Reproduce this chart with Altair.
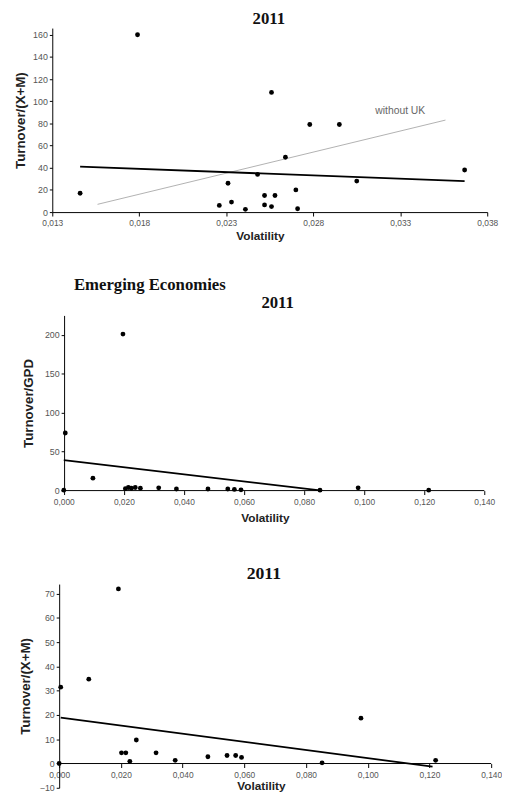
import altair as alt
import pandas as pd

# ---------- Panel 1 : 2011, Turnover/(X+M) ----------
p1_vol = [0.0146, 0.0179, 0.0256, 0.0278, 0.0295, 0.0264, 0.0367, 0.0305, 0.0248,
          0.0231, 0.0226, 0.0233, 0.0241, 0.0252, 0.0258, 0.0252, 0.0256, 0.0270, 0.0271]
p1_turn = [17, 160, 108, 79, 79, 49.5, 38, 28, 34,
           26, 6, 9, 2.5, 15, 15, 6.5, 5, 20, 3]
p1_trend_x = [0.0146, 0.0367]
p1_trend_y = [41, 28]
p1_nouk_x = [0.0156, 0.0356]
p1_nouk_y = [7, 83]
p1_xticks = [0.013, 0.018, 0.023, 0.028, 0.033, 0.038]
p1_yticks = [0, 20, 40, 60, 80, 100, 120, 140, 160]

# ---------- Panel 2 : Emerging Economies 2011, Turnover/GPD ----------
p2_vol = [0.0, 0.0005, 0.0097, 0.0197, 0.0205, 0.0215, 0.0225, 0.0238, 0.0255,
          0.0316, 0.0375, 0.048, 0.0546, 0.0568, 0.059, 0.0853, 0.098, 0.1215]
p2_turn = [0.5, 74, 16, 201, 2.5, 4, 3, 4, 3,
           3.5, 2, 2, 2, 1.5, 1, 0.5, 3.5, 0.5]
p2_trend_x = [0.0, 0.086]
p2_trend_y = [39, 0]
p2_xticks = [0.0, 0.02, 0.04, 0.06, 0.08, 0.10, 0.12, 0.14]
p2_yticks = [0, 50, 100, 150, 200]

# ---------- Panel 3 : 2011, Turnover/(X+M) ----------
p3_vol = [0.0, 0.0005, 0.0096, 0.0192, 0.0202, 0.0216, 0.0229, 0.025, 0.0314,
          0.0376, 0.0482, 0.0544, 0.0572, 0.0591, 0.0852, 0.0978, 0.122]
p3_turn = [0, 31.5, 34.8, 72, 4.4, 4.4, 0.9, 9.7, 4.4,
           1.3, 2.8, 3.3, 3.3, 2.5, 0.3, 18.7, 1.3]
p3_trend_x = [0.0005, 0.121]
p3_trend_y = [18.9, -1.3]
p3_xticks = [0.0, 0.02, 0.04, 0.06, 0.08, 0.10, 0.12, 0.14]
p3_yticks = [-10, 0, 10, 20, 30, 40, 50, 60, 70]

comma = "replace(format(datum.value, '.3f'), '.', ',')"
SERIF = "Liberation Serif"
SANS = "Liberation Sans"


def xaxis(ticks, tx, ty, offset=0, domain=True):
    return alt.Axis(values=ticks, labelExpr=comma, title="Volatility",
                    titleFont=SANS, titleFontSize=12, titleFontWeight="bold",
                    titleColor="#222", titleX=tx, titleY=ty, titleBaseline="middle",
                    labelFont=SANS, labelFontSize=8.5, labelColor="#555",
                    tickSize=4, tickColor="black", domain=domain, domainColor="black",
                    labelPadding=3, offset=offset, grid=False, labelFlush=False,
                    labelOverlap=False)


def yaxis(ticks, title, tx, offset=0):
    return alt.Axis(values=ticks, title=title, format="d",
                    titleFont=SANS, titleFontSize=13.5, titleFontWeight="bold",
                    titleColor="#222", titleX=tx, titleBaseline="middle",
                    labelFont=SANS, labelFontSize=9, labelColor="#555",
                    tickSize=3, tickColor="black", domainColor="black",
                    labelPadding=2, grid=False, labelOverlap=False, offset=offset)


def title(txt, size, dx, off, anchor="middle"):
    return alt.TitleParams(txt, font=SERIF, fontSize=size, fontWeight="bold",
                           anchor=anchor, frame="group", dx=dx, offset=off,
                           color="#111")


# Panel 1  (plot area 442 x 187)
d1 = pd.DataFrame({"v": p1_vol, "t": p1_turn})
t1 = pd.DataFrame({"v": p1_trend_x, "t": p1_trend_y})
n1 = pd.DataFrame({"v": p1_nouk_x, "t": p1_nouk_y})
x1 = alt.X("v:Q", scale=alt.Scale(domain=[0.013, 0.038], nice=False, zero=False),
           axis=xaxis(p1_xticks, 211, 24))
y1 = alt.Y("t:Q", scale=alt.Scale(domain=[0, 166], nice=False),
           axis=yaxis(p1_yticks, "Turnover/(X+M)", -32))
pts1 = alt.Chart(d1).mark_circle(size=24, color="black", opacity=1).encode(x=x1, y=y1)
tr1 = alt.Chart(t1).mark_line(color="black", strokeWidth=1.8).encode(x=x1, y=y1)
nu1 = alt.Chart(n1).mark_line(color="#b0b0b0", strokeWidth=1).encode(x=x1, y=y1)
lab1 = alt.Chart(pd.DataFrame({"v": [0.033], "t": [91.5], "s": ["without UK"]})).mark_text(
    font=SANS, fontSize=10.5, color="#666").encode(x=x1, y=y1, text="s:N")
panel1 = alt.layer(nu1, tr1, pts1, lab1).properties(
    width=442, height=187, title=title("2011", 17, -1, 0.5))

# Panel 2  (x = 0 sits 12 px right of the common plot origin)
d2 = pd.DataFrame({"v": p2_vol, "t": p2_turn})
t2 = pd.DataFrame({"v": p2_trend_x, "t": p2_trend_y})
ax2 = pd.DataFrame({"v": [0.0], "b": [0.14], "t": [0.0]})
x2 = alt.X("v:Q", scale=alt.Scale(domain=[-0.00383, 0.14], nice=False, zero=False),
           axis=xaxis(p2_xticks, 216, 27, domain=False))
y2 = alt.Y("t:Q", scale=alt.Scale(domain=[0, 225], nice=False),
           axis=yaxis(p2_yticks, "Turnover/GPD", -36, offset=-12))
axl2 = alt.Chart(ax2).mark_rule(color="black", strokeWidth=1).encode(x=x2, x2="b:Q", y=y2)
pts2 = alt.Chart(d2).mark_circle(size=24, color="black", opacity=1).encode(x=x2, y=y2)
tr2 = alt.Chart(t2).mark_line(color="black", strokeWidth=1.8).encode(x=x2, y=y2)
yr2 = alt.Chart(pd.DataFrame({"s": ["2011"]})).mark_text(
    font=SERIF, fontSize=17, fontWeight="bold", color="#111", align="center",
    baseline="middle").encode(x=alt.value(229), y=alt.value(-13), text="s:N")
# invisible spacer below the x-axis title (adds room before the next panel)
sp2 = alt.Chart(pd.DataFrame({"s": ["gap"]})).mark_rule(strokeOpacity=0).encode(
    x=alt.value(0), y=alt.value(213), y2=alt.value(219))
panel2 = alt.layer(axl2, tr2, pts2, yr2, sp2).properties(
    width=439, height=178, title=title("Emerging Economies", 17, 22, 0, anchor="start"))

# Panel 3  (x = 0 sits 7 px right of the common plot origin; x axis drawn at y = 0)
d3 = pd.DataFrame({"v": p3_vol, "t": p3_turn})
t3 = pd.DataFrame({"v": p3_trend_x, "t": p3_trend_y})
ax3 = pd.DataFrame({"v": [0.0], "b": [0.14], "t": [0.0]})
x3 = alt.X("v:Q", scale=alt.Scale(domain=[-0.00223, 0.14], nice=False, zero=False),
           axis=xaxis(p3_xticks, 212, 22, offset=-24.6, domain=False))
y3 = alt.Y("t:Q", scale=alt.Scale(domain=[-10, 74], nice=False),
           axis=yaxis(p3_yticks, "Turnover/(X+M)", -34, offset=-7))
axl3 = alt.Chart(ax3).mark_rule(color="black", strokeWidth=1).encode(x=x3, x2="b:Q", y=y3)
pts3 = alt.Chart(d3).mark_circle(size=24, color="black", opacity=1).encode(x=x3, y=y3)
tr3 = alt.Chart(t3).mark_line(color="black", strokeWidth=1.8).encode(x=x3, y=y3)
panel3 = alt.layer(axl3, tr3, pts3).properties(
    width=446, height=207, title=title("2011", 18, -8, 1))

chart = alt.concat(panel1, panel2, panel3, columns=1, spacing=35).properties(
    padding={"left": 6, "top": -5, "right": 0, "bottom": 0}
).configure_view(stroke=None).configure_axis(labelOverlap=False)

chart.save("out.html", embed_options={"renderer": "svg", "actions": False})
